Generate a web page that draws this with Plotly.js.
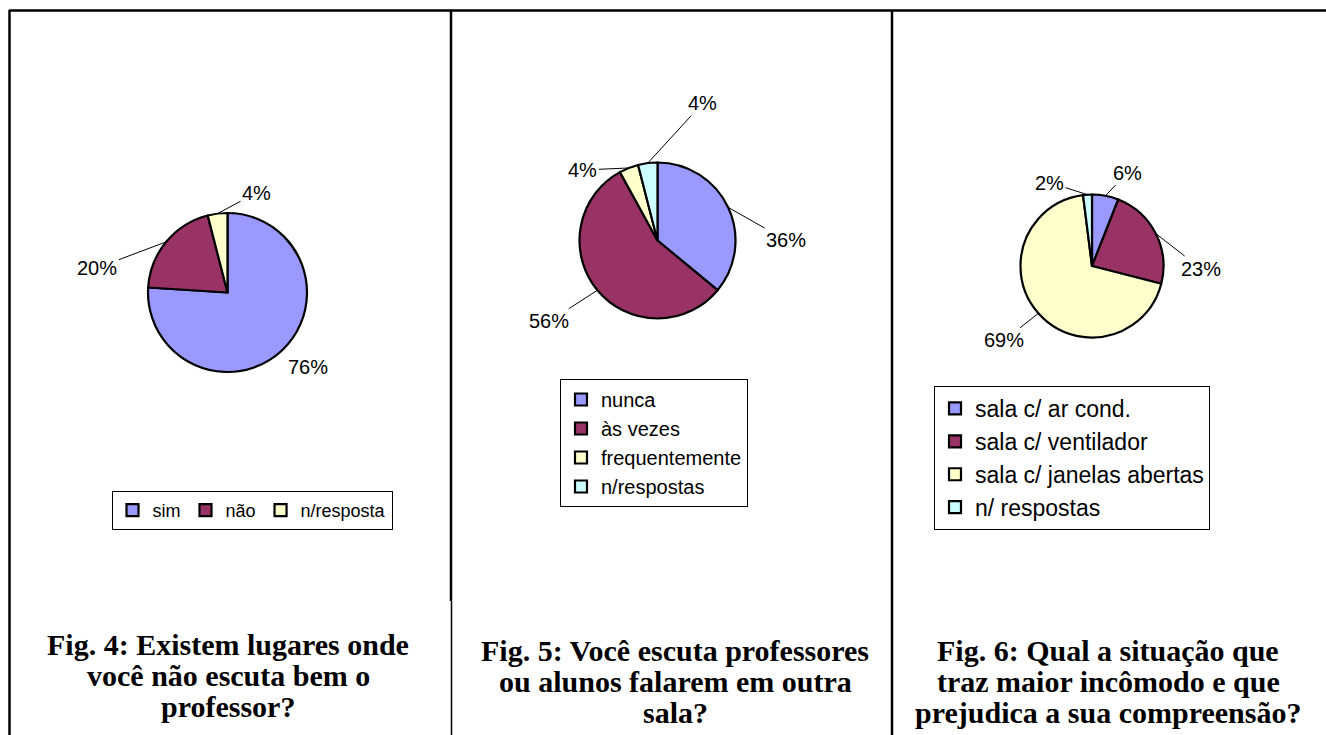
<!DOCTYPE html>
<html><head><meta charset="utf-8">
<script src="https://cdn.plot.ly/plotly-3.0.1.min.js"></script>
<style>html,body{margin:0;padding:0;background:#fff}#chart{width:1326px;height:735px}</style>
</head><body><div id="chart"></div>
<script>
// ---- data ----
const fig4Labels = ['sim', 'não', 'n/resposta'];
const fig4Values = [76, 20, 4];
const fig5Labels = ['nunca', 'às vezes', 'frequentemente', 'n/respostas'];
const fig5Values = [36, 56, 4, 4];
const fig6Labels = ['sala c/ ar cond.', 'sala c/ ventilador', 'sala c/ janelas abertas', 'n/ respostas'];
const fig6Values = [6, 23, 69, 2];
const fig4Caption = ['Fig. 4: Existem lugares onde', 'você não escuta bem o', 'professor?'];
const fig5Caption = ['Fig. 5: Você escuta professores', 'ou alunos falarem em outra', 'sala?'];
const fig6Caption = ['Fig. 6: Qual a situação que', 'traz maior incômodo e que', 'prejudica a sua compreensão?'];

// ---- style / layout ----
const W = 1326, H = 735;
const colors4 = ['#9999FF', '#993366', '#FFFFCC'];
const colors34 = ['#9999FF', '#993366', '#FFFFCC', '#CCFFFF'];
const sans = 'Liberation Sans, Arial, sans-serif';
const serif = 'Liberation Serif, Times New Roman, serif';
const px = x => x / W;
const py = y => 1 - y / H;

const pies = [
  {labels: fig4Labels, values: fig4Values, colors: colors4, cx: 227.5, cy: 292.5, r: 79.5, legend: 'legend', lw: null,
   offsets: [[26, 17], [-69, 26], [39, -21]], lines: [false, true, true]},
  {labels: fig5Labels, values: fig5Values, colors: colors34, cx: 657.5, cy: 240.5, r: 78, legend: 'legend2', lw: 195,
   offsets: [[58, 33], [-48, 31], [-46, 2], [55, -60]], lines: [true, true, true, true]},
  {labels: fig6Labels, values: fig6Values, colors: colors34, cx: 1092, cy: 266, r: 71.5, legend: 'legend3', lw: 262,
   offsets: [[22, -23], [45, 35], [-34, 27], [-38, -12]], lines: [true, true, true, true]}
];

const traces = [];
const annotations = [];
pies.forEach(p => {
  const tr = {
    type: 'pie', labels: p.labels, values: p.values, sort: false, direction: 'clockwise', rotation: 0,
    textinfo: 'none', hoverinfo: 'label+percent', legend: p.legend,
    marker: {colors: p.colors, line: {color: '#000', width: 2.2}},
    domain: {x: [px(p.cx - p.r), px(p.cx + p.r)], y: [py(p.cy + p.r), py(p.cy - p.r)]}
  };
  if (p.lw) tr.legendwidth = p.lw;
  traces.push(tr);
  const total = p.values.reduce((a, b) => a + b, 0);
  let cum = 0;
  p.values.forEach((v, i) => {
    const mid = (cum + v / 2) / total * 2 * Math.PI;
    cum += v;
    const ax = p.cx + p.r * Math.sin(mid);
    const ay = p.cy - p.r * Math.cos(mid);
    annotations.push({
      xref: 'paper', yref: 'paper', x: px(ax), y: py(ay), text: v + '%',
      showarrow: true, ax: p.offsets[i][0], ay: p.offsets[i][1], arrowhead: 0, arrowwidth: 1,
      arrowcolor: p.lines[i] ? '#000' : 'rgba(0,0,0,0)', standoff: 0, borderpad: 1,
      font: {family: sans, size: 20, color: '#000'}
    });
  });
});

const captions = [
  {lines: fig4Caption, cx: 228, ys: [644, 675, 706]},
  {lines: fig5Caption, cx: 675, ys: [650, 681, 712]},
  {lines: fig6Caption, cx: 1108, ys: [650, 681, 712]}
];
captions.forEach(c => c.lines.forEach((t, i) => {
  annotations.push({xref: 'paper', yref: 'paper', x: px(c.cx), y: py(c.ys[i]), xanchor: 'center', yanchor: 'middle',
    text: t, showarrow: false, font: {family: serif, size: 30, color: '#000', weight: 'bold'}});
}));

const frame = [
  [9, 10.5, W, 10.5, 2.5],
  [9.5, 10, 9.5, H, 2.5],
  [451, 10, 451, 601, 2.5],
  [451.5, 601, 451.5, H, 1.5],
  [892, 10, 892, H, 2.5]
];
const shapes = frame.map(f => ({type: 'line', xref: 'paper', yref: 'paper', x0: px(f[0]), y0: py(f[1]), x1: px(f[2]), y1: py(f[3]),
  line: {color: '#000', width: f[4]}}));

const legendBase = {bordercolor: '#000', borderwidth: 1, bgcolor: 'rgba(255,255,255,0)', itemclick: false, itemdoubleclick: false};
const layout = {
  width: W, height: H, margin: {l: 0, r: 0, t: 0, b: 0},
  paper_bgcolor: '#fff', plot_bgcolor: '#fff', showlegend: true,
  legend: Object.assign({}, legendBase, {orientation: 'h', x: px(252), xanchor: 'center', y: py(491), yanchor: 'top',
    font: {family: sans, size: 18, color: '#000'}}),
  legend2: Object.assign({}, legendBase, {orientation: 'v', x: px(560), xanchor: 'left', y: py(379), yanchor: 'top',
    font: {family: sans, size: 20, color: '#000'}}),
  legend3: Object.assign({}, legendBase, {orientation: 'v', x: px(934), xanchor: 'left', y: py(386), yanchor: 'top',
    font: {family: sans, size: 23, color: '#000'}}),
  annotations: annotations, shapes: shapes
};
Plotly.newPlot('chart', traces, layout, {displayModeBar: false, staticPlot: true});
</script>
</body></html>
